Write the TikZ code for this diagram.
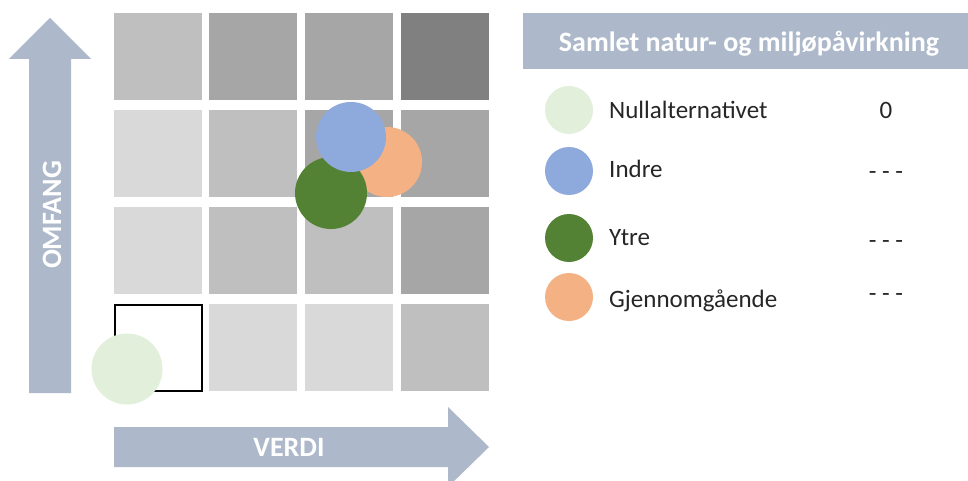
\documentclass[tikz,border=0pt]{standalone}
\usepackage{fontspec}
\setmainfont{Carlito}
\begin{document}
\begin{tikzpicture}[x=1pt,y=-1pt,
  cell/.style={anchor=north west,minimum width=88pt,minimum height=87pt,inner sep=0pt,outer sep=0pt,draw=none},
  dot/.style={circle,inner sep=0pt,outer sep=0pt,draw=none},
  axislabel/.style={text=white,font=\fontsize{28}{32}\selectfont\bfseries,inner sep=0pt},
  legendlabel/.style={anchor=base west,font=\fontsize{25}{30}\selectfont,text=black!85,inner sep=0pt},
  legendvalue/.style={anchor=base,font=\fontsize{25}{30}\selectfont,text=black!85,inner sep=0pt}]
\definecolor{axisblue}{HTML}{ADB9CA}
\definecolor{gA}{HTML}{D9D9D9}
\definecolor{gB}{HTML}{BFBFBF}
\definecolor{gC}{HTML}{A6A6A6}
\definecolor{gD}{HTML}{808080}
\definecolor{nullgreen}{HTML}{E2EFDA}
\definecolor{indreblue}{HTML}{8EA9DB}
\definecolor{ytregreen}{HTML}{548235}
\definecolor{gjorange}{HTML}{F4B183}

\useasboundingbox (0,0) rectangle (968,481);
\clip (0,0) rectangle (968,481);
\fill[white] (0,0) rectangle (968,481);

% axis arrows
\fill[axisblue] (29,393) -- (29,59) -- (9,59) -- (50,18) -- (91,59) -- (71,59) -- (71,393) -- cycle;
\fill[axisblue] (114,427) -- (448,427) -- (448,407) -- (489,447) -- (448,487) -- (448,467) -- (114,467) -- cycle;
\node[axislabel,rotate=90] (omfang) at (52,215) {OMFANG};
\node[axislabel,anchor=base] (verdi) at (289,456) {VERDI};

% 4x4 matrix
\node[cell,fill=gB] (c11) at (114,13) {};
\node[cell,fill=gC] (c12) at (209,13) {};
\node[cell,fill=gC] (c13) at (305,13) {};
\node[cell,fill=gD] (c14) at (401,13) {};
\node[cell,fill=gA] (c21) at (114,110) {};
\node[cell,fill=gB] (c22) at (209,110) {};
\node[cell,fill=gC] (c23) at (305,110) {};
\node[cell,fill=gC] (c24) at (401,110) {};
\node[cell,fill=gA] (c31) at (114,207) {};
\node[cell,fill=gB] (c32) at (209,207) {};
\node[cell,fill=gB] (c33) at (305,207) {};
\node[cell,fill=gC] (c34) at (401,207) {};
\node[cell,fill=white,draw=black,line width=2pt,minimum width=87pt,minimum height=86pt] (c41) at (115,305) {};
\node[cell,fill=gA] (c42) at (209,304) {};
\node[cell,fill=gA] (c43) at (305,304) {};
\node[cell,fill=gB] (c44) at (401,304) {};

% alternatives placed in the matrix
\node[dot,fill=nullgreen,minimum size=71pt] (pnull) at (127,369) {};
\node[dot,fill=gjorange,minimum size=70pt] (pgj) at (387,162) {};
\node[dot,fill=ytregreen,minimum size=72pt] (pytre) at (331,193) {};
\node[dot,fill=indreblue,minimum size=70pt] (pindre) at (351,137) {};

% legend
\fill[axisblue] (523,13) rectangle (968,69);
\node[text=white,font=\fontsize{28}{32}\selectfont\bfseries,anchor=base,inner sep=0pt] (title) at (749,52) {Samlet natur- og miljøpåvirkning};

\node[dot,fill=nullgreen,minimum size=48pt] (lnull) at (569,110) {};
\node[dot,fill=indreblue,minimum size=48pt] (lindre) at (569,171) {};
\node[dot,fill=ytregreen,minimum size=48pt] (lytre) at (569,238) {};
\node[dot,fill=gjorange,minimum size=48pt] (lgj) at (569,297) {};

\node[legendlabel] (tnull) at (609,119) {Nullalternativet};
\node[legendlabel] (tindre) at (609,178) {Indre};
\node[legendlabel] (tytre) at (609,245) {Ytre};
\node[legendlabel] (tgj) at (609,307) {Gjennomgående};

\node[legendvalue] (vnull) at (886,119) {0};
\node[legendvalue] (vindre) at (886,179) {- - -};
\node[legendvalue] (vytre) at (886,248) {- - -};
\node[legendvalue] (vgj) at (886,301) {- - -};
\end{tikzpicture}
\end{document}
